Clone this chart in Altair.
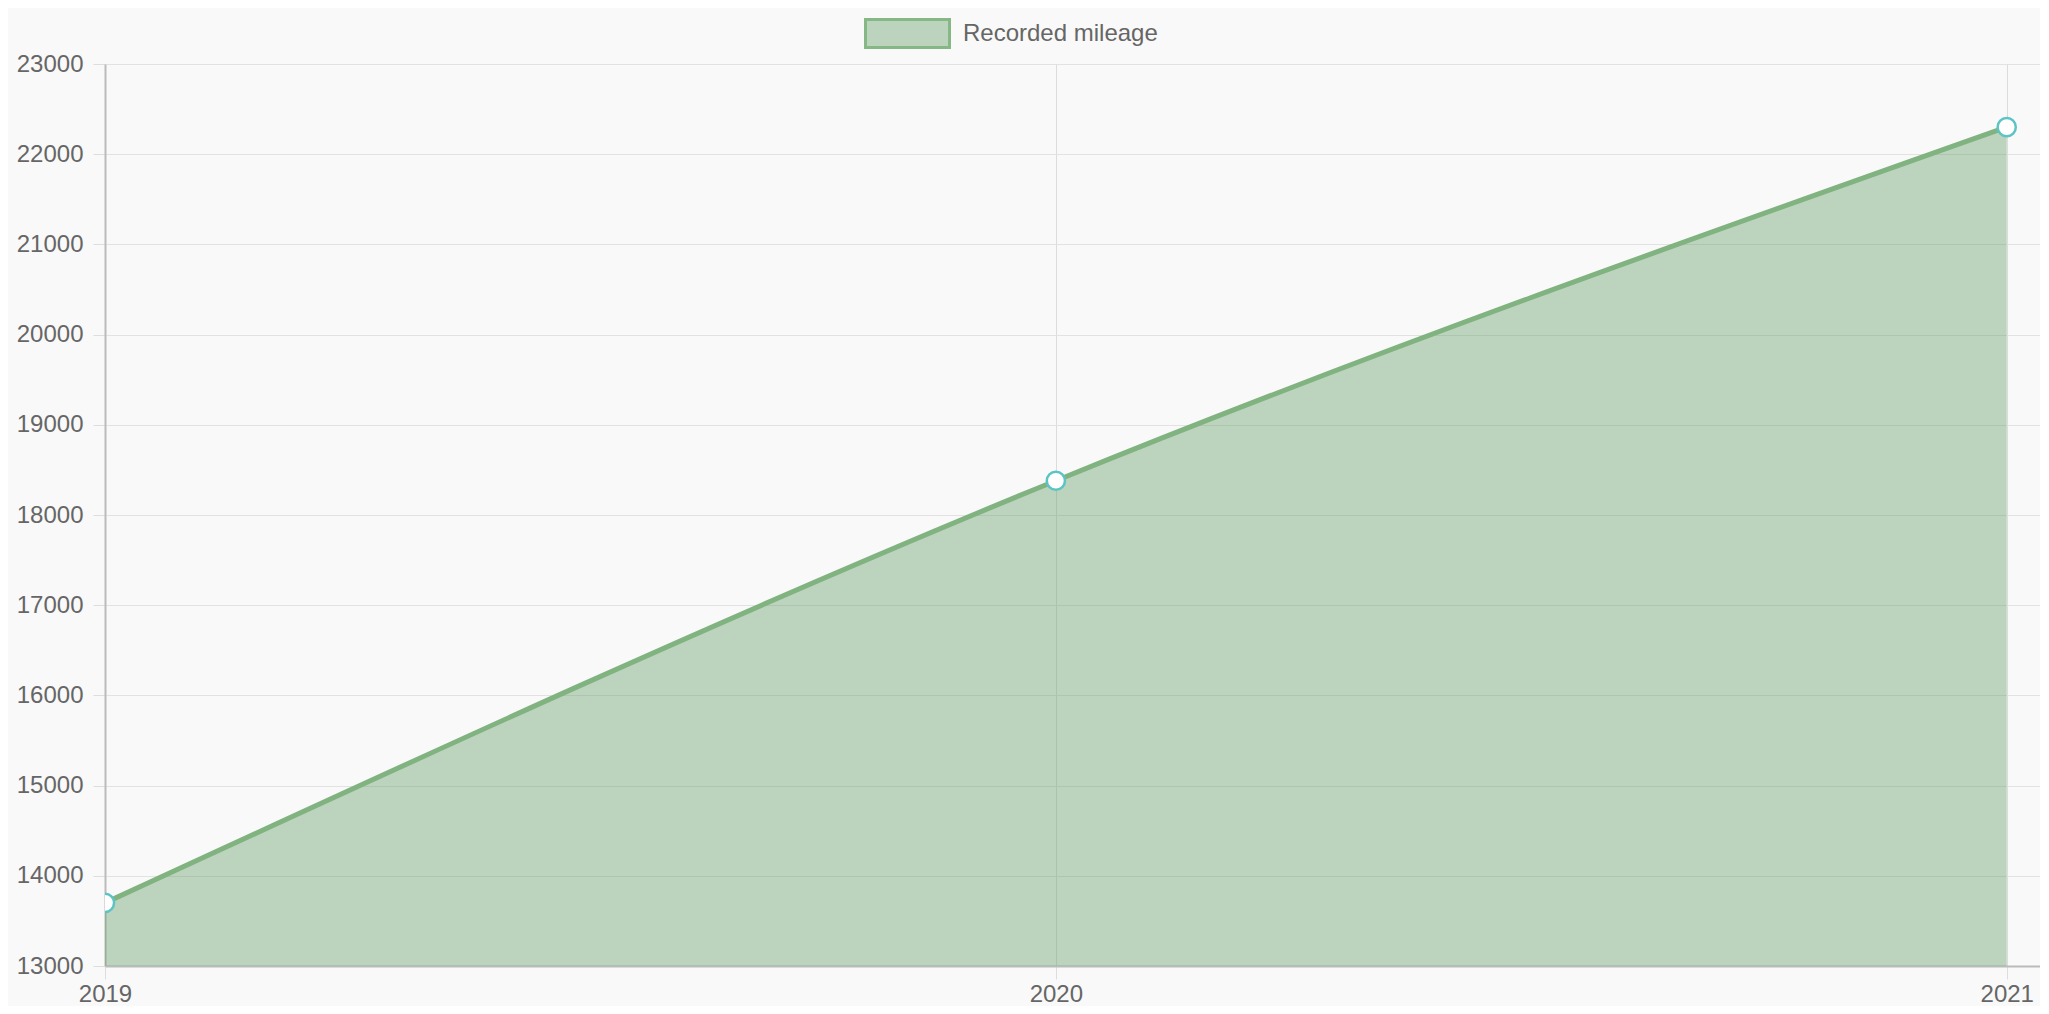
import altair as alt
import pandas as pd

years = [2019, 2020, 2021]
mileage = [13700, 18380, 22300]
series = ["Recorded mileage"] * 3
y_ticks = [13000, 14000, 15000, 16000, 17000, 18000, 19000, 20000, 21000, 22000, 23000]

df = pd.DataFrame({"year": years, "mileage": mileage, "series": series})

x_axis = alt.Axis(
    tickCount=3, tickMinStep=1, format="d", title=None, labelFontSize=24,
    labelColor="#666666", labelFont="Liberation Sans", tickSize=13,
    tickColor="#dddddd", grid=True, gridColor="#dcdcdc", domainColor="#bbbbbb",
    domainWidth=2, labelPadding=3, labelFlush=False, labelOverlap=False,
)
y_axis = alt.Axis(
    values=y_ticks, format="d", title=None,
    labelFontSize=24, labelColor="#666666", labelFont="Liberation Sans",
    tickSize=12, tickColor="#dddddd", gridColor="#e2e2e2",
    domainColor="#bbbbbb", domainWidth=2, labelPadding=10,
)
x_scale = alt.Scale(domain=[2019, 2021.035], nice=False, zero=False)
y_scale = alt.Scale(domain=[13000, 23000], nice=False, zero=False)

color_enc = alt.Color(
    "series:N",
    scale=alt.Scale(domain=["Recorded mileage"], range=["rgba(97,157,99,0.4)"]),
    legend=alt.Legend(
        title=None, orient="none", legendX=759, legendY=-74,
        symbolType="M-1,-0.333H1V0.333H-1Z", symbolSize=7056,
        symbolStrokeColor="#86b886", symbolStrokeWidth=3,
        symbolFillColor="#bcd4bd", symbolOpacity=1,
        labelFontSize=24, labelColor="#666666", labelFont="Liberation Sans",
        labelOffset=12, labelLimit=400, padding=0,
    ),
)

base = alt.Chart(df).encode(
    x=alt.X("year:Q", scale=x_scale, axis=x_axis),
    y=alt.Y("mileage:Q", scale=y_scale, axis=y_axis),
)

area = base.mark_area(interpolate="monotone", clip=True).encode(color=color_enc)
line = base.mark_line(
    interpolate="monotone", color="#80b380", strokeWidth=5, clip=True
)
points = base.mark_point(
    filled=True, fill="white", stroke="#5cc4c4", strokeWidth=2.5, size=330,
    opacity=1, clip=True
)

chart = (
    alt.layer(area, line, points)
    .properties(
        width=1935, height=902,
        autosize=alt.AutoSizeParams(type="none"),
        padding={"left": 97, "top": 56, "right": 0, "bottom": 40},
        background="#f9f9f9",
    )
    .configure_view(stroke=None)
)

chart.save("out.html", embed_options={"renderer": "svg", "actions": False})
